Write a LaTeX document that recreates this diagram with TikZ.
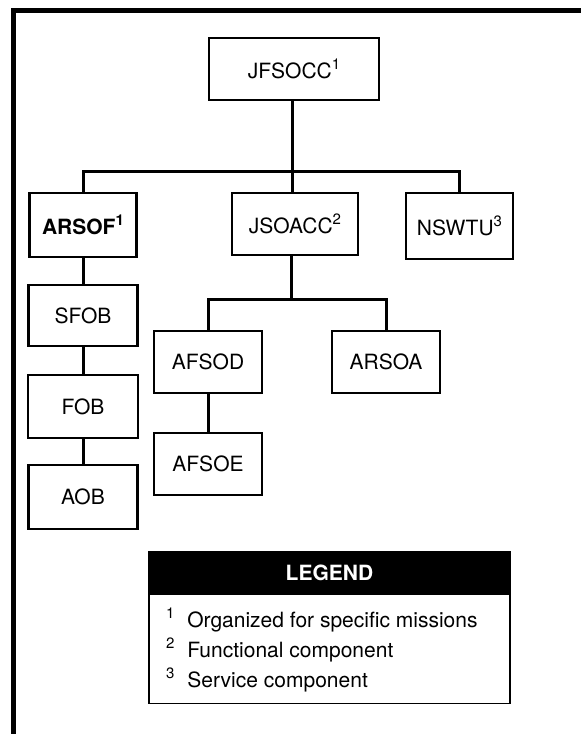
\documentclass[tikz,border=0pt]{standalone}
\usepackage{fontspec}
\setmainfont{TeX Gyre Heros}
\newcommand{\supnum}[1]{\raisebox{0.42em}{\fontsize{15}{15}\selectfont #1}}
\begin{document}
\begin{tikzpicture}[x=1pt,y=-1pt,
  every node/.style={font=\fontsize{21}{25}\selectfont, inner sep=0pt},
  box/.style={draw, line width=2.2pt, align=center},
  conn/.style={line width=3pt},
  legline/.style={anchor=west}]
\useasboundingbox (0,0) rectangle (581,734);
% outer frame (top and left visible)
\coordinate (ftl) at (13.5,10.5);
\coordinate (ftr) at (590,10.5);
\coordinate (fbl) at (13.5,745);
\draw[line width=5pt] (ftr) -- (ftl) -- (fbl);
% nodes
\node[box, minimum width=170, minimum height=62] (jfsocc) at (294,69) {JFSOCC\supnum{1}};
\node[box, minimum width=107, minimum height=64] (arsof) at (83,225) {\bfseries ARSOF\supnum{1}};
\node[box, minimum width=126, minimum height=62] (jsoacc) at (295,224) {JSOACC\supnum{2}};
\node[box, minimum width=107, minimum height=66] (nswtu) at (459.5,226) {NSWTU\supnum{3}};
\node[box, minimum width=109, minimum height=61] (sfob) at (83,315.5) {SFOB};
\node[box, minimum width=110, minimum height=63] (fob) at (83,406.5) {FOB};
\node[box, minimum width=109, minimum height=64] (aob) at (83,497) {AOB};
\node[box, minimum width=108, minimum height=62] (afsod) at (208,362) {AFSOD};
\node[box, minimum width=108, minimum height=62] (arsoa) at (386,362) {ARSOA};
\node[box, minimum width=108, minimum height=62] (afsoe) at (208,464) {AFSOE};
% connectors
\coordinate (bar1) at (292,171);
\coordinate (bar2) at (291,299);
\draw[conn] (bar1 |- jfsocc.south) -- (bar1);
\draw[conn] (arsof.north) |- (bar1) -| (nswtu.north);
\draw[conn] (bar1) -- (bar1 |- jsoacc.north);
\draw[conn] (arsof.south) -- (sfob.north);
\draw[conn] (sfob.south) -- (fob.north);
\draw[conn] (fob.south) -- (aob.north);
\draw[conn] (bar2 |- jsoacc.south) -- (bar2);
\draw[conn] (afsod.north) |- (bar2) -| (arsoa.north);
\draw[conn] (afsod.south) -- (afsoe.north);
% legend
\node[draw, line width=1.5pt, fill=black, text=white, minimum width=361, minimum height=41, font=\fontsize{21}{25}\selectfont\bfseries] (leghead) at (329.5,572.5) {LEGEND};
\node[draw, line width=1.5pt, minimum width=361, minimum height=109, anchor=north] (legbody) at (leghead.south) {};
\node[legline] (l1) at (166,620) {\supnum{1}\,\, Organized for specific missions};
\node[legline] (l2) at (166,650) {\supnum{2}\,\, Functional component};
\node[legline] (l3) at (166,680) {\supnum{3}\,\, Service component};
\end{tikzpicture}
\end{document}
